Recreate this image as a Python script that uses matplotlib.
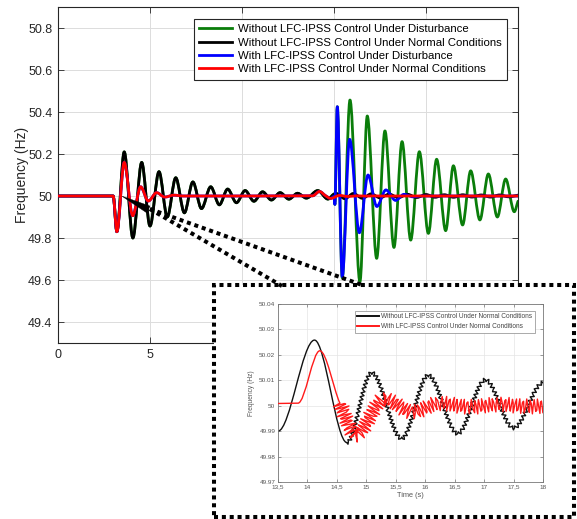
import numpy as np
import matplotlib
matplotlib.use("Agg")
import matplotlib.pyplot as plt
from matplotlib.path import Path
from matplotlib.patches import PathPatch, Rectangle, Polygon
from matplotlib.lines import Line2D
from matplotlib.ticker import FuncFormatter

plt.rcParams['font.family'] = ['Liberation Sans', 'DejaVu Sans']

# ---------------------------------------------------------------------------
# Turning points of the frequency traces (time in s, frequency in Hz)
# ---------------------------------------------------------------------------
# Without LFC-IPSS control, normal conditions
black_t = [0, 3.0, 3.2, 3.6, 4.07, 4.55, 5.0, 5.49, 5.94, 6.4, 6.87, 7.33, 7.8,
           8.3, 8.77, 9.22, 9.7, 10.17, 10.65, 11.12, 11.6, 12.07, 12.55, 13.02,
           13.5, 14.12, 14.67, 15.09, 15.6, 16.05, 16.55, 17.02, 17.5, 18.0,
           18.5, 19.0, 19.5, 20.0, 20.5, 21.0, 21.5, 22.0, 22.5, 23.0, 23.5,
           24.0, 24.5, 25.0]
black_f = [50.0, 50.0, 49.83, 50.21, 49.80, 50.16, 49.857, 50.116, 49.90, 50.087,
           49.92, 50.067, 49.94, 50.044, 49.958, 50.033, 49.968, 50.026, 49.975,
           50.02, 49.981, 50.016, 49.985, 50.013, 49.99, 50.0258, 49.9855, 50.013,
           49.987, 50.012, 49.989, 50.0102, 49.9912, 50.009, 49.992, 50.008,
           49.993, 50.007, 49.994, 50.006, 49.994, 50.006, 49.995, 50.005, 49.995,
           50.005, 49.996, 50.004]

# With LFC-IPSS control, normal conditions
red_t = [0, 3.0, 3.2, 3.6, 4.06, 4.49, 4.91, 5.36, 5.8, 6.3, 6.8, 13.84, 14.21,
         14.55, 14.82, 15.3, 15.78, 16.25, 16.75, 17.25, 17.75, 18.25, 25.0]
red_f = [50.0, 50.0, 49.83, 50.16, 49.906, 50.044, 49.976, 50.016, 49.995, 50.004,
         50.0, 50.001, 50.0216, 50.001, 49.9885, 50.0027, 49.9975, 50.001, 49.9995,
         50.0005, 49.9997, 50.0, 50.0]

# Disturbance applied at t = 15 s
green_dist_t = [15.0, 15.05, 15.18, 15.45, 15.87, 16.41, 16.81, 17.32, 17.77,
                18.26, 18.7, 19.17, 19.64, 20.13, 20.58, 21.07, 21.49, 21.99,
                22.43, 22.93, 23.39, 23.88, 24.33, 24.8, 25.0]
green_dist_f = [50.008, 49.96, 50.425, 49.61, 50.457, 49.592, 50.381, 49.703,
                50.31, 49.755, 50.259, 49.79, 50.211, 49.822, 50.175, 49.835,
                50.144, 49.862, 50.12, 49.886, 50.105, 49.90, 50.081, 49.925,
                49.975]

blue_dist_t = [15.0, 15.05, 15.18, 15.45, 15.85, 16.38, 16.85, 17.33, 17.82,
               18.35, 18.8, 19.3, 19.8, 25.0]
blue_dist_f = [49.998, 49.96, 50.425, 49.616, 50.27, 49.825, 50.10, 49.95,
               50.029, 49.979, 50.008, 49.996, 50.0, 50.0]

# Before the disturbance each disturbed trace follows its normal-condition twin
green_t = [t for t in black_t if t < 15.0] + green_dist_t
green_f = [f for t, f in zip(black_t, black_f) if t < 15.0] + green_dist_f
blue_t = [t for t in red_t if t < 15.0] + blue_dist_t
blue_f = [f for t, f in zip(red_t, red_f) if t < 15.0] + blue_dist_f

labels = ["Without LFC-IPSS Control Under Disturbance",
          "Without LFC-IPSS Control Under Normal Conditions",
          "With LFC-IPSS Control Under Disturbance",
          "With LFC-IPSS Control Under Normal Conditions"]
colors = ["#0a7d0a", "#000000", "#0000ff", "#ff0000"]

main_yticks = [49.4, 49.6, 49.8, 50.0, 50.2, 50.4, 50.6, 50.8]
main_xticks = [0, 5, 10, 15, 20, 25]
zoom_yticks = [49.97, 49.98, 49.99, 50.0, 50.01, 50.02, 50.03, 50.04]
zoom_xticks = [13.5, 14, 14.5, 15, 15.5, 16, 16.5, 17, 17.5, 18]


def smooth_path(t, f, start=0, stop=None):
    """Cubic Bezier path through the turning points (monotone Hermite tangents)."""
    t = np.asarray(t, float)
    f = np.asarray(f, float)
    n = len(t)
    h = np.diff(t)
    d = np.diff(f) / h
    m = np.zeros(n)
    for i in range(1, n - 1):
        if d[i - 1] * d[i] > 0:
            w1 = 2 * h[i] + h[i - 1]
            w2 = h[i] + 2 * h[i - 1]
            m[i] = (w1 + w2) / (w1 / d[i - 1] + w2 / d[i])
    m[-1] = d[-1]
    if stop is None:
        stop = n - 1
    verts = [(t[start], f[start])]
    codes = [Path.MOVETO]
    for i in range(start, stop):
        hh = h[i] / 3.0
        verts += [(t[i] + hh, f[i] + m[i] * hh),
                  (t[i + 1] - hh, f[i + 1] - m[i + 1] * hh),
                  (t[i + 1], f[i + 1])]
        codes += [Path.CURVE4] * 3
    return Path(verts, codes)


def add_trace(ax, t, f, color, lw, start=0, stop=None, ripple=None, z=2):
    patch = PathPatch(smooth_path(t, f, start, stop), fill=False, edgecolor=color,
                      lw=lw, capstyle='round', joinstyle='round', zorder=z)
    if ripple is not None:
        patch.set_sketch_params(ripple[0], ripple[1], 1.0)
    ax.add_patch(patch)
    return patch


fig = plt.figure(figsize=(5.77, 5.19), dpi=100)

# ---------------------------------------------------------------------------
# Main axes
# ---------------------------------------------------------------------------
ax = fig.add_axes([0.1005, 0.3391, 0.7972, 0.6474])
ax.set_zorder(0)
for (tt, ff), c, z in zip([(green_t, green_f), (black_t, black_f),
                           (blue_t, blue_f), (red_t, red_f)], colors, [2, 3, 4, 5]):
    add_trace(ax, tt, ff, c, 2.0, z=z)

ax.set_xlim(0, 25)
ax.set_ylim(49.3, 50.9)
ax.set_xticks(main_xticks)
ax.set_yticks(main_yticks)
ax.yaxis.set_major_formatter(FuncFormatter(lambda v, p: '%g' % round(v, 2)))
ax.tick_params(direction='in', length=4, width=0.6, top=True, right=True,
               labelsize=9, colors='#262626', pad=4)
ax.grid(True, color='#dcdcdc', lw=0.7)
ax.set_axisbelow(True)
for s in ax.spines.values():
    s.set_color('#262626')
    s.set_linewidth(0.8)
ax.set_ylabel('Frequency (Hz)', fontsize=10, color='#262626', labelpad=-0.5)

handles = [Line2D([], [], color=c, lw=2.0) for c in colors]
leg = ax.legend(handles, labels, loc='upper right', bbox_to_anchor=(0.976, 0.964),
                borderaxespad=0, fontsize=8.2, handlelength=2.9, handletextpad=0.5,
                labelspacing=0.3, borderpad=0.45, fancybox=False, framealpha=1,
                edgecolor='#262626')
leg.get_frame().set_linewidth(0.8)
leg.set_zorder(10)

# Pointer wedge at the zoomed region
wedge = Polygon([(3.48, 49.999), (5.0, 49.952), (4.84, 49.919)], closed=True,
                facecolor='black', edgecolor='black', lw=0.3, zorder=8,
                clip_on=False)
ax.add_patch(wedge)

# ---------------------------------------------------------------------------
# Zoom frame and connectors
# ---------------------------------------------------------------------------
dots = (0, (1, 0.95))
frame = Rectangle((0.3709, 0.0048), 0.6239, 0.4461, transform=fig.transFigure,
                  facecolor='white', edgecolor='black', lw=2.9, linestyle=dots,
                  zorder=1)
fig.add_artist(frame)

origin = fig.transFigure.inverted().transform(ax.transData.transform((5.0, 49.938)))
for end in [(0.4887, 0.4489), (0.6274, 0.4509)]:
    con = Line2D([origin[0], end[0]], [origin[1], end[1]], transform=fig.transFigure,
                 lw=2.9, linestyle=dots, color='black', zorder=2,
                 dash_capstyle='butt')
    fig.add_artist(con)

# ---------------------------------------------------------------------------
# Zoomed axes
# ---------------------------------------------------------------------------
axz = fig.add_axes([0.4818, 0.0713, 0.4593, 0.3430])
axz.set_zorder(3)
kb = black_t.index(14.67)
kr = red_t.index(14.55)
add_trace(axz, black_t, black_f, '#111111', 1.0, stop=kb, z=2)
add_trace(axz, black_t, black_f, '#111111', 1.0, start=kb, ripple=(1.8, 4.0), z=2)
add_trace(axz, red_t, red_f, '#ff1a1a', 1.0, stop=kr, z=3)
add_trace(axz, red_t, red_f, '#ff1a1a', 1.0, start=kr, ripple=(7.5, 3.4), z=3)

axz.set_xlim(13.5, 18)
axz.set_ylim(49.97, 50.04)
axz.set_xticks(zoom_xticks)
axz.set_yticks(zoom_yticks)
axz.xaxis.set_major_formatter(FuncFormatter(lambda v, p: ('%g' % v).replace('.', ',')))
axz.yaxis.set_major_formatter(FuncFormatter(lambda v, p: '%g' % round(v, 2)))
axz.tick_params(direction='in', length=2, width=0.4, top=True, right=True,
                labelsize=4.6, colors='#555555', pad=2)
axz.grid(True, color='#e4e4e4', lw=0.5)
axz.set_axisbelow(True)
for s in axz.spines.values():
    s.set_color('#777777')
    s.set_linewidth(0.6)
axz.set_ylabel('Frequency (Hz)', fontsize=4.8, color='#555555', labelpad=3)
axz.set_xlabel('Time (s)', fontsize=5.3, color='#555555', labelpad=1.5)

zh = [Line2D([], [], color='#111111', lw=1.4), Line2D([], [], color='#ff1a1a', lw=1.4)]
lz = axz.legend(zh, [labels[1], labels[3]],
                loc='upper right', bbox_to_anchor=(0.970, 0.962), borderaxespad=0,
                fontsize=4.7, handlelength=3.3, handletextpad=0.4,
                labelspacing=0.45, borderpad=0.4, fancybox=False, framealpha=1,
                edgecolor='#888888')
lz.get_frame().set_linewidth(0.5)
for txt in lz.get_texts():
    txt.set_color('#444444')

fig.savefig('out.png', dpi=100)
